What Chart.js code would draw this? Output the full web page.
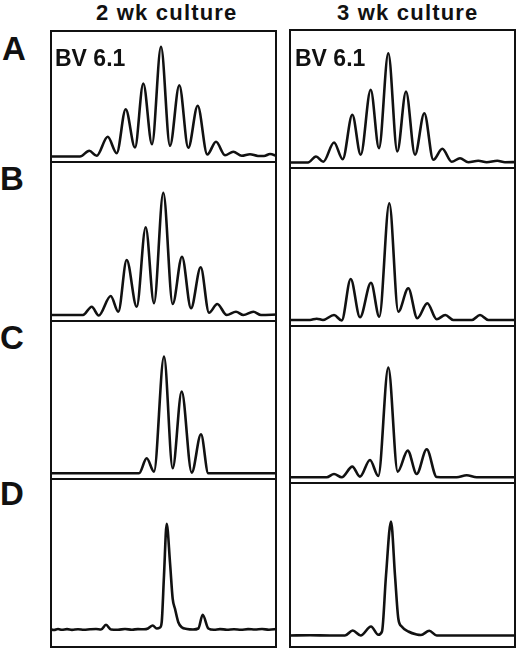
<!DOCTYPE html>
<html>
<head>
<meta charset="utf-8">
<script src="https://cdn.jsdelivr.net/npm/chart.js"></script>
<style>
body { margin: 0; background: #fff; }
#fig { position: relative; width: 520px; height: 650px; font-family: "Liberation Sans", Arial, sans-serif; font-weight: bold; color: #111; }
.lbl { position: absolute; line-height: 1; white-space: nowrap; z-index: 2; }
.panel { position: absolute; }
</style>
</head>
<body>
<div id="fig">
  <div class="lbl" style="left:96px;top:2px;font-size:22px;letter-spacing:1.2px">2 wk culture</div>
  <div class="lbl" style="left:337px;top:2px;font-size:22px;letter-spacing:1.2px">3 wk culture</div>
  <div class="lbl" style="left:2px;top:32px;font-size:33px">A</div>
  <div class="lbl" style="left:0px;top:162px;font-size:33px">B</div>
  <div class="lbl" style="left:0px;top:321px;font-size:33px">C</div>
  <div class="lbl" style="left:0px;top:477px;font-size:33px">D</div>
  <div class="lbl" style="left:55px;top:47px;font-size:23px">BV 6.1</div>
  <div class="lbl" style="left:295px;top:47px;font-size:23px">BV 6.1</div>
</div>
<script>
// spectratype traces: position along the size axis, signal above baseline
var wk2A_pos = [0, 30, 39.3, 46.7, 57.7, 66.7, 75.7, 85, 93.3, 102, 111, 120, 129.3, 138.3, 147.7, 157.3, 166, 175, 183.3, 191.7, 200, 208, 214, 220, 227];
var wk2A_sig = [0, 0, 5.7, 0.7, 19.7, 3.3, 47.3, 9, 73, 12.3, 109.7, 10.7, 71.3, 8.7, 50.7, 2, 14.7, 1.3, 4.7, 0.7, 2.3, 0.5, 0.5, 2.5, 0.5];

var wk2B_pos = [0, 33, 41.7, 48.7, 60.7, 68.3, 76.7, 86.7, 95.7, 104, 113.3, 122.7, 132, 141, 150.7, 159, 167.3, 176.7, 186, 193.3, 203.3, 211, 227];
var wk2B_sig = [0, 0, 8.3, -0.5, 19, 3.3, 55, 8.3, 87.7, 11.7, 122.3, 11, 58.3, 6.7, 47.7, 2.3, 11, 0, 3.3, 0, 3.3, 0, 0.5];

var wk2C_pos = [0, 89, 96.7, 104, 114, 122.7, 131.7, 141.7, 151, 158.3, 227];
var wk2C_sig = [0, 0, 15, 1.7, 116.7, 5, 81.7, 0.7, 39, 0, 0];

var wk2D_pos = [0, 4, 8, 12, 17, 22, 28, 34, 40, 46, 51, 56, 61, 68, 75, 82, 88, 94, 98, 102.7, 106.7, 110, 111.7, 114, 116.7, 120, 122.7, 125, 128.3, 131.7, 137, 143, 148.3, 152.7, 158.3, 164, 170, 177, 184, 191, 198, 205, 212, 219, 227];
var wk2D_sig = [0.3, -0.5, 0.5, -0.3, 0.4, -0.4, 0.3, -0.3, 0.2, 0.5, 0, 4.7, 0, -0.3, 0.5, -0.2, 0.4, 0.2, 1, 4, 1, 2, 7.3, 54, 105.7, 67, 30.7, 20.7, 7.3, 2.3, 0.5, 0, 1, 14.7, 1, -0.3, 0.4, -0.2, 0.3, -0.3, 0.4, 0, 0.5, -0.2, 0.6];

var wk3A_pos = [0, 18, 26, 33.3, 44, 52.7, 62.3, 70.7, 80.7, 89, 98.3, 107.3, 116, 125, 134.3, 143.3, 152.3, 161.7, 170, 178.3, 188.3, 196.7, 207.3, 215, 227];
var wk3A_sig = [0, 0, 6, 0.7, 20, 3.3, 47.7, 7.7, 72.7, 14.3, 109.3, 11, 71, 7.7, 49.3, 2.7, 13.7, 0.7, 4.3, 0.3, 1.7, 0.3, 1.7, 0.3, 0.5];

var wk3B_pos = [0, 20, 26.7, 33, 44, 51.7, 60.7, 70, 81, 89.3, 99.3, 108.3, 118.3, 127.3, 137.3, 146.7, 155.3, 163.3, 182, 190, 198.3, 227];
var wk3B_sig = [0, 0, 1.3, 0, 5, -0.5, 41, 2.7, 37.3, 3.3, 116.7, 8.3, 31.7, 1.7, 16.7, 0.7, 5, 0, 0, 5, 0, 0];

var wk3C_pos = [0, 36.7, 44, 51.7, 62.3, 70, 80, 88.3, 98.3, 107.7, 117.7, 126.7, 136.7, 146.7, 166.7, 176.7, 186.7, 227];
var wk3C_sig = [0, 0, 3.3, 0, 10.7, 0.7, 17.3, 1.3, 109.7, 5.7, 26.7, 3.3, 28, 0.3, 0, 2, 0, 0];

var wk3D_pos = [0, 20, 40, 55, 62.7, 70.7, 81, 88.3, 92, 96, 101, 105, 108.3, 111.7, 118.3, 126.7, 131, 139.3, 146.7, 227];
var wk3D_sig = [0, 0.3, 0, 0, 5, 0, 9, 0.7, 4, 60, 114, 60, 17, 9, 4, 1, 0.5, 4.7, 0, 0];

var traces = [
    [[wk2A_pos, wk2A_sig], [wk2B_pos, wk2B_sig], [wk2C_pos, wk2C_sig], [wk2D_pos, wk2D_sig]],
    [[wk3A_pos, wk3A_sig], [wk3B_pos, wk3B_sig], [wk3C_pos, wk3C_sig], [wk3D_pos, wk3D_sig]]
];

// layout of the panel grid (pixels)
var colLeft = [50, 289];
var colShift = [0, -1];
var colWidth = 227;
var rowEdges = [[30, 163, 322, 480, 648], [29, 169, 327, 484, 648]];
var baselines = [[156.5, 315, 473.3, 629.5], [162.5, 320, 477.3, 635.5]];

var frame = {
    id: 'frame',
    afterDraw(chart, args, opts) {
        var c = chart.ctx, w = chart.width, h = chart.height;
        c.save();
        c.strokeStyle = '#111';
        c.lineWidth = 2;
        c.beginPath();
        c.moveTo(1, 0); c.lineTo(1, h);
        c.moveTo(w - 1, 0); c.lineTo(w - 1, h);
        c.moveTo(0, h - 1); c.lineTo(w, h - 1);
        if (opts.top) { c.moveTo(0, 1); c.lineTo(w, 1); }
        c.stroke();
        c.restore();
    }
};

function makePanel(col, row) {
    var yTop = rowEdges[col][row], yBottom = rowEdges[col][row + 1];
    var base = baselines[col][row];
    var box = document.createElement('div');
    box.className = 'panel';
    box.style.left = colLeft[col] + 'px';
    box.style.top = yTop + 'px';
    var cv = document.createElement('canvas');
    cv.width = colWidth;
    cv.height = yBottom - yTop;
    box.appendChild(cv);
    document.getElementById('fig').appendChild(box);

    var pos = traces[col][row][0], sig = traces[col][row][1];
    return new Chart(cv.getContext('2d'), {
        type: 'line',
        data: {
            datasets: [{
                data: pos.map(function (x, i) { return { x: x, y: sig[i] }; }),
                borderColor: '#111',
                borderWidth: 2.6,
                pointRadius: 0,
                fill: false,
                cubicInterpolationMode: 'monotone'
            }]
        },
        options: {
            responsive: false,
            animation: false,
            events: [],
            layout: { padding: 0 },
            plugins: {
                legend: { display: false },
                tooltip: { enabled: false },
                frame: { top: row === 0 }
            },
            scales: {
                x: { type: 'linear', display: false, min: colShift[col], max: colShift[col] + colWidth },
                y: { display: false, min: -(yBottom - base), max: base - yTop }
            }
        },
        plugins: [frame]
    });
}

for (var c = 0; c < 2; c++) {
    for (var r = 0; r < 4; r++) {
        makePanel(c, r);
    }
}
</script>
</body>
</html>
